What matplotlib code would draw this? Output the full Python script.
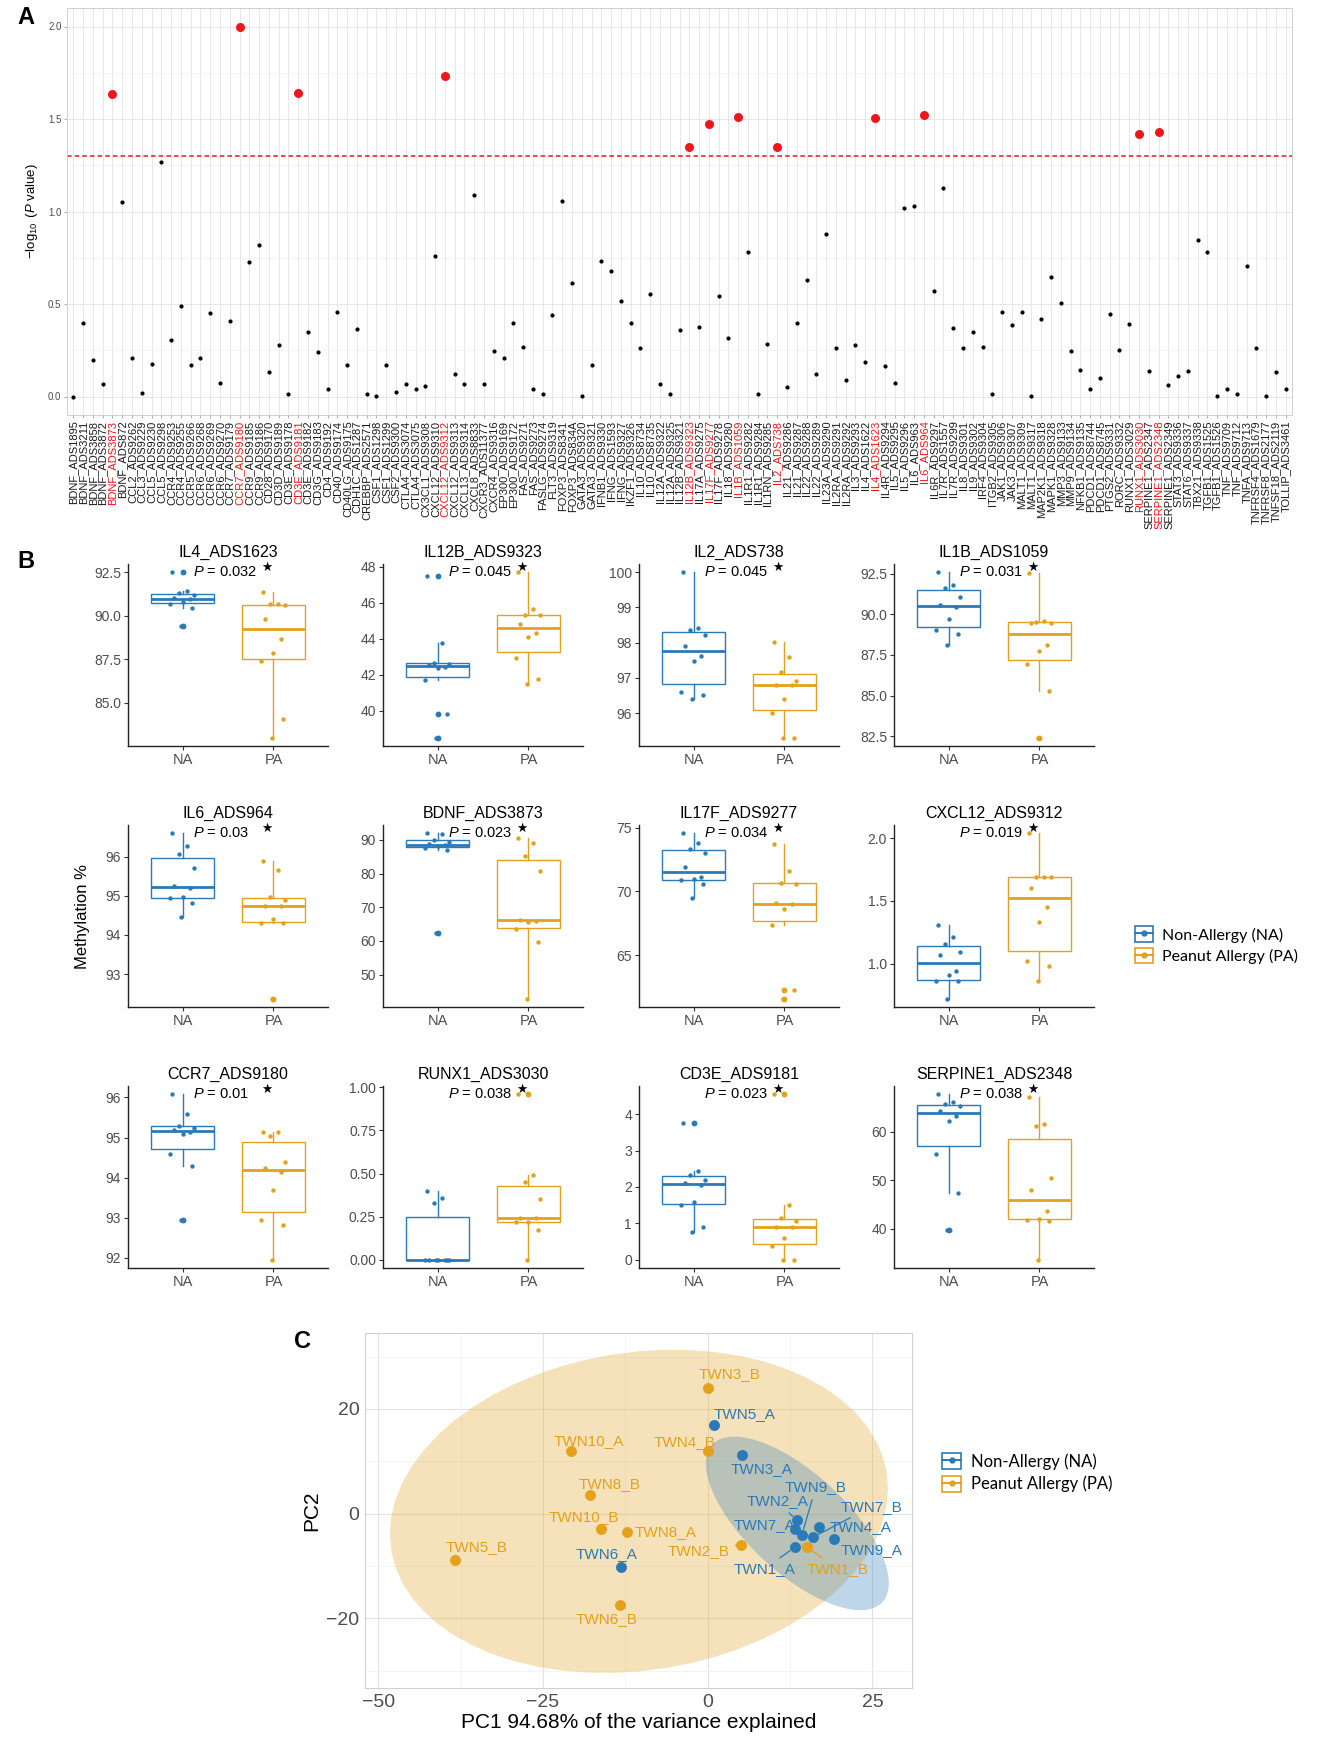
import numpy as np
import matplotlib
matplotlib.use("Agg")
import matplotlib.pyplot as plt
from matplotlib.patches import Patch
from matplotlib.lines import Line2D
from matplotlib.legend_handler import HandlerTuple

plt.rcParams["font.family"] = ["Liberation Sans", "DejaVu Sans"]
plt.rcParams["mathtext.fontset"] = "custom"
plt.rcParams["mathtext.rm"] = "Liberation Sans"
plt.rcParams["mathtext.it"] = "Liberation Sans:italic"

BLUE = "#2A7AB8"
GOLD = "#E4A11B"
HIT_RED = "#F0141B"
W, H = 1325, 1741

########################################
# Data
########################################

# panel A: one point per probe, -log10(P)
probes = [
    "BDNF_ADS1895", "BDNF_ADS3211", "BDNF_ADS3858", "BDNF_ADS3872", "BDNF_ADS3873",
    "BDNF_ADS872", "CCL2_ADS9262", "CCL3_ADS9229", "CCL5_ADS9230", "CCL5_ADS9298",
    "CCR4_ADS9253", "CCR4_ADS9255", "CCR5_ADS9266", "CCR6_ADS9268", "CCR6_ADS9269",
    "CCR6_ADS9270", "CCR7_ADS9179", "CCR7_ADS9180", "CCR9_ADS9185", "CCR9_ADS9186",
    "CD28_ADS9170", "CD3D_ADS9189", "CD3E_ADS9178", "CD3E_ADS9181", "CD3E_ADS9182",
    "CD3G_ADS9183", "CD4_ADS9192", "CD40_ADS9174", "CD40LG_ADS9175", "CDH1C_ADS1287",
    "CREBBP_ADS2571", "CSF1_ADS1298", "CSF1_ADS1299", "CSF2_ADS9300", "CTLA4_ADS3074",
    "CTLA4_ADS3075", "CX3CL1_ADS9308", "CXCL12_ADS9310", "CXCL12_ADS9312", "CXCL12_ADS9313",
    "CXCL13_ADS9314", "CXCL8_ADS8833", "CXCR3_ADS11377", "CXCR4_ADS9316", "EP300_ADS9169",
    "EP300_ADS9172", "FAS_ADS9271", "FAS_ADS9273", "FASLG_ADS9274", "FLT3_ADS9319",
    "FOXP3_ADS8341", "FOXP3_ADS834A", "GATA3_ADS9320", "GATA3_ADS9321", "IFNB1_ADS9330",
    "IFNG_ADS1593", "IFNG_ADS9327", "IKZF1_ADS9326", "IL10_ADS8734", "IL10_ADS8735",
    "IL12A_ADS9322", "IL12A_ADS9325", "IL12B_ADS9321", "IL12B_ADS9323", "IL17A_ADS9275",
    "IL17F_ADS9277", "IL17F_ADS9278", "IL18_ADS9280", "IL1B_ADS1059", "IL1R1_ADS9282",
    "IL1R1_ADS9284", "IL1RN_ADS9285", "IL2_ADS738", "IL21_ADS9286", "IL21_ADS9287",
    "IL22_ADS9288", "IL22_ADS9289", "IL23A_ADS9290", "IL2RA_ADS9291", "IL2RA_ADS9292",
    "IL3_ADS9293", "IL4_ADS1622", "IL4_ADS1623", "IL4R_ADS9294", "IL5_ADS9295",
    "IL5_ADS9296", "IL6_ADS963", "IL6_ADS964", "IL6R_ADS9297", "IL7R_ADS1557",
    "IL7R_ADS9299", "IL8_ADS9301", "IL9_ADS9302", "IRF4_ADS9304", "ITGB2_ADS9305",
    "JAK1_ADS9306", "JAK3_ADS9307", "MALT1_ADS9309", "MALT1_ADS9317", "MAP2K1_ADS9318",
    "MAPK1_ADS9328", "MMP3_ADS9133", "MMP9_ADS9134", "NFKB1_ADS9135", "PDCD1_ADS8744",
    "PDCD1_ADS8745", "PTGS2_ADS9331", "RORC_ADS9332", "RUNX1_ADS3029", "RUNX1_ADS3030",
    "SERPINE1_ADS2347", "SERPINE1_ADS2348", "SERPINE1_ADS2349", "STAT3_ADS9336", "STAT6_ADS9337",
    "TBX21_ADS9338", "TGFB1_ADS1525", "TGFB1_ADS1526", "TNF_ADS9709", "TNF_ADS9712",
    "TNFA_ADS9713", "TNFRSF4_ADS1679", "TNFRSF8_ADS2177", "TNFSF18_ADS2119", "TOLLIP_ADS3461",
]
neg_log_p = [
    0.00, 0.395, 0.20, 0.07, 1.635, 1.054, 0.208, 0.02, 0.175, 1.27,
    0.307, 0.489, 0.17, 0.208, 0.45, 0.072, 0.408, 2.00, 0.726, 0.82,
    0.134, 0.278, 0.014, 1.64, 0.348, 0.242, 0.043, 0.457, 0.168, 0.363,
    0.014, 0.002, 0.168, 0.022, 0.07, 0.038, 0.058, 0.762, 1.733, 0.123,
    0.07, 1.088, 0.07, 0.247, 0.208, 0.40, 0.265, 0.042, 0.014, 0.442,
    1.056, 0.616, 0.002, 0.171, 0.735, 0.677, 0.516, 0.395, 0.264, 0.556,
    0.07, 0.014, 0.361, 1.35, 0.375, 1.471, 0.543, 0.316, 1.509, 0.783,
    0.016, 0.283, 1.35, 0.054, 0.399, 0.63, 0.121, 0.877, 0.264, 0.088,
    0.276, 0.188, 1.504, 0.166, 0.072, 1.02, 1.031, 1.52, 0.57, 1.126,
    0.37, 0.264, 0.35, 0.269, 0.014, 0.455, 0.386, 0.455, 0.002, 0.417,
    0.648, 0.504, 0.247, 0.143, 0.042, 0.099, 0.448, 0.251, 0.394, 1.419,
    0.137, 1.428, 0.063, 0.112, 0.137, 0.847, 0.783, 0.002, 0.043, 0.014,
    0.706, 0.264, 0.002, 0.135, 0.042,
]

# panel B: methylation % per group
b_titles = ["IL4_ADS1623", "IL12B_ADS9323", "IL2_ADS738", "IL1B_ADS1059",
            "IL6_ADS964", "BDNF_ADS3873", "IL17F_ADS9277", "CXCL12_ADS9312",
            "CCR7_ADS9180", "RUNX1_ADS3030", "CD3E_ADS9181", "SERPINE1_ADS2348"]
b_pvals = ["0.032", "0.045", "0.045", "0.031", "0.03", "0.023",
           "0.034", "0.019", "0.01", "0.038", "0.023", "0.038"]
b_na = [
    [92.5, 91.45, 91.3, 91.2, 91.0, 90.95, 90.8, 90.7, 90.45, 89.4],
    [47.5, 43.75, 42.65, 42.6, 42.55, 42.45, 42.4, 41.7, 39.8, 38.5],
    [100.0, 98.41, 98.35, 98.22, 97.9, 97.61, 97.49, 96.59, 96.51, 96.4],
    [92.6, 91.84, 91.66, 91.07, 90.59, 90.48, 89.73, 89.03, 88.8, 88.12],
    [96.6, 96.27, 96.07, 95.7, 95.25, 95.2, 94.98, 94.95, 94.83, 94.45],
    [92.0, 91.9, 90.0, 89.5, 88.7, 88.4, 88.2, 87.7, 87.1, 62.2],
    [74.55, 73.8, 73.3, 73.0, 71.9, 71.1, 71.0, 70.9, 70.55, 69.45],
    [1.31, 1.21, 1.16, 1.09, 1.07, 0.94, 0.91, 0.86, 0.86, 0.72],
    [96.08, 95.59, 95.29, 95.25, 95.2, 95.15, 95.1, 94.6, 94.3, 92.95],
    [0.40, 0.36, 0.33, 0.0, 0.0, 0.0, 0.0, 0.0, 0.0, 0.0],
    [3.76, 2.45, 2.34, 2.2, 2.1, 2.05, 1.6, 1.5, 0.91, 0.75],
    [67.76, 66.1, 65.7, 65.25, 64.36, 63.28, 62.27, 55.4, 47.3, 39.7],
]
b_pa = [
    [91.35, 90.65, 90.65, 90.6, 89.82, 88.68, 87.85, 87.38, 84.05, 83.0],
    [47.7, 45.68, 45.35, 45.33, 44.83, 44.35, 44.11, 42.95, 41.75, 41.5],
    [98.02, 97.59, 97.18, 96.9, 96.8, 96.8, 96.4, 96.0, 95.3, 95.3],
    [92.55, 89.6, 89.55, 89.5, 89.45, 88.12, 87.76, 86.97, 85.27, 82.4],
    [95.88, 95.65, 94.97, 94.9, 94.75, 94.75, 94.4, 94.3, 94.3, 92.37],
    [90.5, 89.0, 85.1, 80.8, 66.3, 65.9, 65.5, 63.4, 59.7, 42.8],
    [73.7, 71.6, 70.66, 70.6, 69.1, 69.0, 68.62, 67.38, 62.3, 61.6],
    [2.04, 1.69, 1.69, 1.69, 1.6, 1.45, 1.33, 1.02, 0.98, 0.86],
    [95.15, 95.15, 95.05, 94.39, 94.25, 94.15, 93.7, 92.95, 92.82, 91.95],
    [0.96, 0.49, 0.45, 0.353, 0.245, 0.24, 0.22, 0.22, 0.17, 0.0],
    [4.55, 1.5, 1.15, 1.06, 0.9, 0.9, 0.59, 0.38, 0.0, 0.0],
    [67.2, 61.6, 61.3, 50.4, 48.06, 43.6, 42.1, 41.9, 41.5, 33.6],
]
b_yticks = [
    ["85.0", "87.5", "90.0", "92.5"], ["40", "42", "44", "46", "48"],
    ["96", "97", "98", "99", "100"], ["82.5", "85.0", "87.5", "90.0", "92.5"],
    ["93", "94", "95", "96"], ["50", "60", "70", "80", "90"],
    ["65", "70", "75"], ["1.0", "1.5", "2.0"],
    ["92", "93", "94", "95", "96"], ["0.00", "0.25", "0.50", "0.75", "1.00"],
    ["0", "1", "2", "3", "4"], ["40", "50", "60"],
]

# panel C: PCA scores
c_labels = ["TWN1_A", "TWN2_A", "TWN3_A", "TWN4_A", "TWN5_A", "TWN6_A", "TWN7_A",
            "TWN7_B", "TWN9_A", "TWN9_B",
            "TWN1_B", "TWN2_B", "TWN3_B", "TWN4_B", "TWN5_B", "TWN6_B", "TWN8_A",
            "TWN8_B", "TWN10_A", "TWN10_B"]
c_pc1 = [13.2, 13.5, 5.2, 16.9, 1.0, -13.1, 13.3, 16.0, 19.1, 14.3,
         15.1, 5.0, 0.1, 0.1, -38.3, -13.3, -12.3, -17.9, -20.8, -16.2]
c_pc2 = [-6.4, -1.3, 11.2, -2.5, 17.0, -10.1, -3.0, -4.5, -4.9, -4.0,
         -6.4, -5.9, 24.0, 12.0, -8.8, -17.4, -3.5, 3.5, 12.0, -3.0]
c_group = ["NA"] * 10 + ["PA"] * 10

# label nudges (points) for panel C, like ggrepel output
c_nudge = {
    "TWN3_B": (15, 10), "TWN5_A": (22, 8), "TWN4_B": (-17, 6), "TWN3_A": (14, -10),
    "TWN10_A": (13, 7), "TWN8_B": (14, 8), "TWN10_B": (-12, 9), "TWN8_A": (28, 0),
    "TWN5_B": (15, 9), "TWN6_A": (-11, 9), "TWN6_B": (-10, -10), "TWN2_B": (-30, -5),
    "TWN2_A": (-14, 14), "TWN9_B": (10, 34), "TWN7_B": (42, 22), "TWN7_A": (-22, 3),
    "TWN4_A": (30, 0), "TWN9_A": (27, -8), "TWN1_A": (-22, -16), "TWN1_B": (22, -16),
}
c_segment = ["TWN2_A", "TWN9_B", "TWN7_B", "TWN1_A", "TWN1_B", "TWN2_B"]

JITTER = [-0.12, 0.05, -0.04, 0.13, -0.09, 0.08, 0.0, -0.14, 0.1, -0.02]


########################################
# Helpers
########################################


def px_axes(fig, left, top, right, bottom):
    return fig.add_axes([left / W, 1 - bottom / H, (right - left) / W, (bottom - top) / H])


def cov_trob(xy, nu=5, maxit=25, tol=0.01):
    # port of MASS::cov.trob, what stat_ellipse(type = "t") uses
    n, p = xy.shape
    loc = xy.mean(axis=0)
    w = np.ones(n)
    X = xy - loc
    for _ in range(maxit):
        w0 = w
        X = xy - loc
        _, d, vt = np.linalg.svd(np.sqrt(w / w.sum())[:, None] * X, full_matrices=False)
        wX = X @ vt.T @ np.diag(1 / d)
        q = (wX ** 2).sum(axis=1)
        w = (nu + p) / (nu + q)
        loc = (w[:, None] * xy).sum(axis=0) / w.sum()
        if np.all(np.abs(w - w0) < tol):
            break
    sx = np.sqrt(w)[:, None] * X
    return loc, sx.T @ sx / n


def t_ellipse(x, y, f95=4.2565, segments=60):
    # f95 = qf(0.95, 2, n - 1) for n = 10
    center, shape = cov_trob(np.column_stack([x, y]))
    radius = np.sqrt(2 * f95)
    ang = np.linspace(0, 2 * np.pi, segments + 1)
    circle = np.column_stack([np.cos(ang), np.sin(ang)])
    pts = center + radius * circle @ np.linalg.cholesky(shape).T
    return pts[:, 0], pts[:, 1]


def legend_handles():
    return [
        (Patch(facecolor="white", edgecolor=col, linewidth=1.2),
         Line2D([], [], color=col, marker="o", markersize=3.5, linewidth=1.4))
        for col in (BLUE, GOLD)
    ]


fig = plt.figure(figsize=(W / 100, H / 100), dpi=100)

########################################
# Panel A
########################################

axA = px_axes(fig, 67, 8, 1292, 415)
xa = np.arange(1, len(probes) + 1)
va = np.array(neg_log_p)
cut = -np.log10(0.05)
hit = va > cut
axA.scatter(xa[~hit], va[~hit], s=9, color="black", linewidths=0, zorder=3)
axA.scatter(xa[hit], va[hit], s=42, color=HIT_RED, linewidths=0, zorder=3)
axA.axhline(cut, color=HIT_RED, ls=(0, (3, 2)), lw=1.1, zorder=2)
axA.set_xlim(0.35, len(probes) + 0.65)
axA.set_ylim(-0.1, 2.1)
axA.set_xticks(xa)
axA.set_xticklabels(probes, rotation=90, fontsize=8)
for lab, h in zip(axA.get_xticklabels(), hit):
    lab.set_color(HIT_RED if h else "#1A1A1A")
axA.set_yticks([0, 0.5, 1.0, 1.5, 2.0])
axA.set_yticklabels(["0.0", "0.5", "1.0", "1.5", "2.0"])
axA.set_yticks(np.arange(0.25, 2.1, 0.5), minor=True)
axA.grid(True, which="major", color="#E3E3E3", lw=0.6)
axA.grid(True, which="minor", axis="y", color="#EFEFEF", lw=0.4)
axA.set_axisbelow(True)
for s in axA.spines.values():
    s.set_color("#CFCFCF")
    s.set_linewidth(0.7)
axA.tick_params(axis="both", which="both", length=2, color="#B3B3B3", pad=2)
axA.tick_params(axis="y", which="minor", length=0)
axA.tick_params(axis="y", labelsize=7, labelcolor="#4D4D4D")
axA.set_ylabel(r"$-\log_{10}$ ($\mathit{P}$ value)", fontsize=9.5, labelpad=6)

########################################
# Panel B
########################################

b_left = [128, 383, 639, 894]
b_top = [564, 825, 1086]
for k in range(12):
    r, c = divmod(k, 4)
    ax = px_axes(fig, b_left[c], b_top[r], b_left[c] + 200, b_top[r] + 182)
    groups = [np.array(b_na[k]), np.array(b_pa[k])]
    bp = ax.boxplot(groups, positions=[1, 2], widths=0.7, patch_artist=True,
                    showcaps=False, whis=1.5)
    for i, col in enumerate((BLUE, GOLD)):
        bp["boxes"][i].set(facecolor="white", edgecolor=col, linewidth=1.0)
        bp["medians"][i].set(color=col, linewidth=2.0)
        for wline in bp["whiskers"][2 * i:2 * i + 2]:
            wline.set(color=col, linewidth=1.0)
        bp["fliers"][i].set(marker="o", markersize=3.2, markerfacecolor=col,
                            markeredgecolor=col)
        vals = groups[i]
        ax.scatter(i + 1 + np.array(JITTER[:len(vals)]), vals, s=10, color=col,
                   linewidths=0, zorder=4)
    lo = min(g.min() for g in groups)
    hi = max(g.max() for g in groups)
    pad = 0.05 * (hi - lo)
    ax.set_ylim(lo - pad, hi + pad)
    ax.set_xlim(0.4, 2.6)
    ax.text(1.12, hi, rf"$\mathit{{P}}$ = {b_pvals[k]}", ha="left", va="center",
            fontsize=10.5, zorder=5)
    ax.annotate("★", (1.93, hi), xytext=(0, 3), textcoords="offset points",
                ha="center", va="center", fontsize=9, zorder=5)
    ax.set_yticks([float(t) for t in b_yticks[k]])
    ax.set_yticklabels(b_yticks[k])
    ax.set_xticks([1, 2])
    ax.set_xticklabels(["NA", "PA"], fontsize=10.5)
    ax.set_title(b_titles[k], fontsize=11.5, pad=5)
    for side in ("top", "right"):
        ax.spines[side].set_visible(False)
    for side in ("left", "bottom"):
        ax.spines[side].set_color("#222222")
        ax.spines[side].set_linewidth(1.0)
    ax.tick_params(axis="both", length=3, color="#333333", labelcolor="#4D4D4D",
                   labelsize=10, pad=2)
    ax.tick_params(axis="x", labelsize=10.5)

fig.text(83 / W, 1 - 916 / H, "Methylation %", rotation=90, ha="center", va="center",
         fontsize=12)
fig.legend(legend_handles(), ["Non-Allergy (NA)", "Peanut Allergy (PA)"],
           handler_map={tuple: HandlerTuple(ndivide=1)}, loc="center left",
           bbox_to_anchor=(0.846, 0.457), frameon=False,
           prop={"family": "Lato", "size": 11.5}, handlelength=1.1, handleheight=1.1,
           handletextpad=0.6, labelspacing=0.35)

########################################
# Panel C
########################################

axC = px_axes(fig, 365, 1333, 912, 1688)
pc1 = np.array(c_pc1)
pc2 = np.array(c_pc2)
grp = np.array(c_group)
colors = {"NA": BLUE, "PA": GOLD}
for g in ("PA", "NA"):
    m = grp == g
    ex, ey = t_ellipse(pc1[m], pc2[m])
    axC.fill(ex, ey, color=colors[g], alpha=0.3, lw=0, zorder=1)
for g in ("PA", "NA"):
    m = grp == g
    axC.scatter(pc1[m], pc2[m], s=62, color=colors[g], linewidths=0, zorder=3)
for lab, x0, y0, g in zip(c_labels, pc1, pc2, grp):
    dx, dy = c_nudge[lab]
    arrow = None
    if lab in c_segment:
        arrow = dict(arrowstyle="-", color=colors[g], lw=0.9, shrinkA=2, shrinkB=4)
    axC.annotate(lab, (x0, y0), xytext=(dx, dy), textcoords="offset points",
                 ha="center", va="center", fontsize=11, color=colors[g],
                 arrowprops=arrow, zorder=4)
axC.set_xlim(-52, 31)
axC.set_ylim(-33.3, 34.5)
axC.set_xticks([-50, -25, 0, 25])
axC.set_xticklabels(["\u221250", "\u221225", "0", "25"])
axC.set_yticks([-20, 0, 20])
axC.set_yticklabels(["\u221220", "0", "20"])
axC.set_xticks([-37.5, -12.5, 12.5], minor=True)
axC.set_yticks([-30, -10, 10, 30], minor=True)
axC.grid(True, which="major", color="#E3E3E3", lw=0.8)
axC.grid(True, which="minor", color="#F0F0F0", lw=0.5)
axC.set_axisbelow(True)
for s in axC.spines.values():
    s.set_color("#CFCFCF")
    s.set_linewidth(0.8)
axC.tick_params(axis="both", which="both", length=0, labelsize=14,
                labelcolor="#4D4D4D", pad=4)
axC.set_xlabel("PC1 94.68% of the variance explained", fontsize=15, labelpad=2)
axC.set_ylabel("PC2", fontsize=15, labelpad=4)
fig.legend(legend_handles(), ["Non-Allergy (NA)", "Peanut Allergy (PA)"],
           handler_map={tuple: HandlerTuple(ndivide=1)}, loc="center left",
           bbox_to_anchor=(0.700, 0.154), frameon=False,
           prop={"family": "Lato", "size": 12}, handlelength=1.1, handleheight=1.1,
           handletextpad=0.6, labelspacing=0.35)

# panel letters
fig.text(17 / W, 1 - 17 / H, "A", fontsize=17, fontweight="bold", va="center")
fig.text(17 / W, 1 - 561 / H, "B", fontsize=17, fontweight="bold", va="center")
fig.text(294 / W, 1 - 1342 / H, "C", fontsize=17, fontweight="bold", va="center")

fig.savefig("out.png", dpi=100)
